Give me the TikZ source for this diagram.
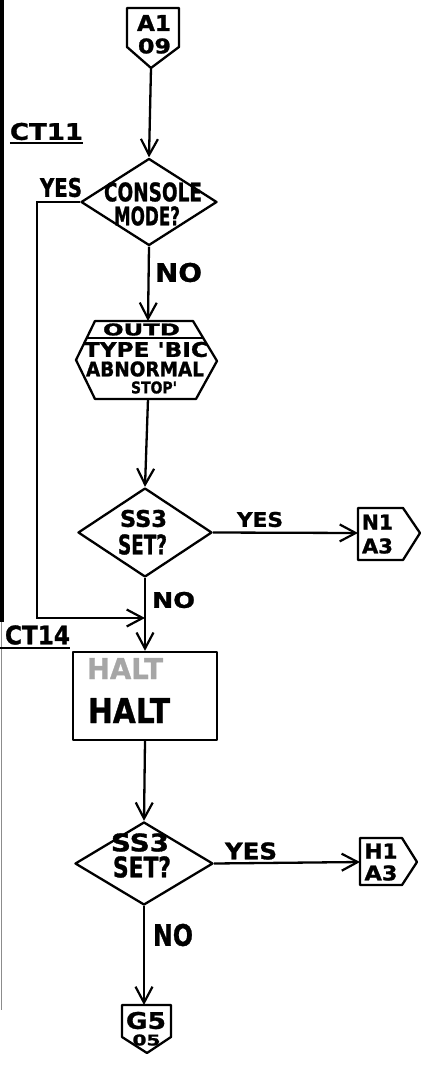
\documentclass[tikz,border=0pt]{standalone}
\usepackage{fontspec}
\usepackage{graphicx}
\newfontfamily\hand{DejaVu Sans Bold}[FakeBold=1.2]
\usetikzlibrary{arrows.meta,shapes.geometric}
\newcommand{\hw}[3]{\resizebox{#1pt}{#2pt}{\hand #3}}
\begin{document}
\begin{tikzpicture}[x=1pt,y=-1pt,
  shp/.style={draw, line width=2.3pt, line join=round},
  dia/.style={shp, diamond, inner sep=0pt},
  flow/.style={line width=2.3pt, -{Straight Barb[length=16pt,width=17pt,line width=2.2pt]}},
  plain/.style={line width=2.3pt},
  lbl/.style={inner sep=0pt, anchor=center},
  faint/.style={lbl, text=black!35}]
\useasboundingbox (0,0) rectangle (425,1067);
% left border
\draw[line width=4pt] (1.5,0) -- (1.5,622);
\draw[line width=1.5pt, black!45] (1.5,622) -- (1.5,1010);

% top connector A1/09
\draw[shp] (127,8) -- (179,8) -- (179,47) -- (151,68) -- (127,47) -- cycle;
\coordinate (c1tip) at (151,68);
\node[lbl] (c1a) at (154,23) {\hw{34}{16}{A1}};
\node[lbl] (c1b) at (154.5,46) {\hw{33}{15}{09}};

% CT11
\node[lbl] (ct11) at (46.5,131.5) {\hw{73}{17}{CT11}};
\draw[line width=1.8pt] (ct11.south west) ++(0,3) -- ++(73,0);

% decision 1
\node[dia, minimum width=136pt, minimum height=87pt] (d1) at (149,202) {};
\node[lbl] (d1a) at (153,192) {\hw{98}{19}{CONSOLE}};
\node[lbl] (d1b) at (147,216) {\hw{66}{19}{MODE?}};
\node[lbl] (yes1) at (61,187.5) {\hw{42}{19}{YES}};
\node[lbl] (no1) at (178.5,272.5) {\hw{47}{19}{NO}};

% hexagon (output)
\coordinate (hexN) at (148,321);
\coordinate (hexS) at (148,399);
\draw[shp] (95,321) -- (193,321) -- (217,361) -- (196,399) -- (95,399) -- (76,360) -- cycle;
\draw[plain] (86,338) -- (203,338);
\node[lbl] (h1) at (141.5,329.5) {\hw{77}{12}{OUTD}};
\node[lbl] (h2) at (146,349.5) {\hw{124}{15}{TYPE 'BIC}};
\node[lbl] (h3) at (145,369) {\hw{118}{15}{ABNORMAL}};
\node[lbl] (h4) at (154,387.5) {\hw{46}{12}{STOP'}};

% decision 2
\node[dia, minimum width=134pt, minimum height=89pt] (d2) at (145,532.5) {};
\node[lbl] (d2a) at (143.5,518.5) {\hw{47}{17}{SS3}};
\node[lbl] (d2b) at (142.5,544.5) {\hw{49}{20}{SET?}};
\node[lbl] (yes2) at (260,519.5) {\hw{46}{15}{YES}};

% connector N1/A3
\draw[shp] (358,508) -- (403,508) -- (420,533) -- (403,560) -- (358,560) -- cycle;
\coordinate (n1w) at (358,533);
\node[lbl] (n1a) at (377.5,522) {\hw{31}{15}{N1}};
\node[lbl] (n1b) at (377.5,546) {\hw{31}{15}{A3}};

\node[lbl] (no2) at (173.5,600) {\hw{43}{16}{NO}};

% return line
\coordinate (yl) at (37,618);
\coordinate (j1) at (145,618);

% CT14
\node[lbl] (ct14) at (37.5,635) {\hw{65}{19}{CT14}};
\draw[line width=1.4pt] (0,648) -- (70,648);

% process box
\node[shp, rectangle, minimum width=144pt, minimum height=88pt, inner sep=0pt] (box) at (145,696) {};
\node[faint] (bx1) at (125,668.5) {\hw{76}{21}{HALT}};
\node[lbl] (bx2) at (129,710.5) {\hw{82}{25}{HALT}};

% decision 3
\node[dia, minimum width=138pt, minimum height=83pt] (d3) at (144,863.5) {};
\node[lbl] (d3a) at (140,842.5) {\hw{58}{18}{SS3}};
\node[lbl] (d3b) at (142,867) {\hw{58}{21}{SET?}};
\node[lbl] (yes3) at (251,851) {\hw{52}{17}{YES}};

% connector H1/A3
\draw[shp] (360,838) -- (402,838) -- (417,862) -- (402,885) -- (360,885) -- cycle;
\coordinate (h1w) at (360,862);
\node[lbl] (h1a) at (381,851) {\hw{33}{15}{H1}};
\node[lbl] (h1b) at (381,873) {\hw{33}{15}{A3}};

\node[lbl] (no3) at (173,935) {\hw{40}{22}{NO}};

% bottom connector G5/05
\draw[shp] (122,1005) -- (171,1005) -- (171,1037) -- (147,1053) -- (122,1037) -- cycle;
\coordinate (g5top) at (144,1005);
\node[lbl] (g5a) at (146,1020.5) {\hw{40}{17}{G5}};
\node[lbl] (g5b) at (146.5,1040) {\hw{28}{11}{05}};

% connectors
\draw[flow] (c1tip) -- (d1.north);
\draw[flow] (d1.south) -- (hexN);
\draw[flow] (hexS) -- (d2.north);
\draw[flow] (d2.east) -- (n1w);
\draw[flow] (d1.west) -| (yl) -- (j1);
\draw[flow] (d2.south) -- (box.north);
\draw[flow] (box.south) -- (d3.north);
\draw[flow] (d3.east) -- (h1w);
\draw[flow] (d3.south) -- (g5top);
\end{tikzpicture}
\end{document}
